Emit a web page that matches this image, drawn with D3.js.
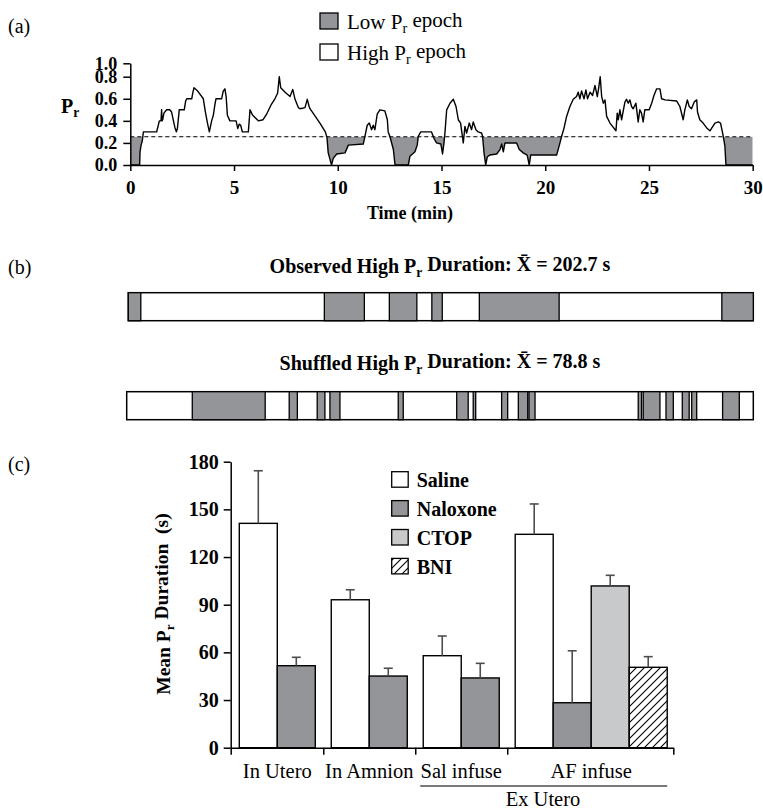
<!DOCTYPE html>
<html>
<head>
<meta charset="utf-8">
<script src="https://cdn.jsdelivr.net/npm/d3@7"></script>
<style>
  body { margin: 0; background: #fff; }
  svg { display: block; font-family: 'Liberation Serif', 'Times New Roman', serif; }
</style>
</head>
<body>
<div id="chart"></div>
<script>
// ---- panel (a): release probability over time ----
const prTime = [0, 0.45, 0.47, 0.52, 0.58, 0.63, 1.27, 1.35, 1.40, 1.48, 1.51, 1.53, 1.56, 1.62, 1.75, 1.90, 1.99, 2.08, 2.15, 2.22,
  2.27, 2.36, 2.60, 2.67, 2.72, 2.96, 3.02, 3.07, 3.25, 3.52, 3.62, 3.72, 3.81, 3.92, 4.0, 4.08, 4.13, 4.40, 4.48, 4.56,
  4.62, 4.68, 4.80, 5.10, 5.18, 5.25, 5.32, 5.40, 5.69, 5.77, 5.90, 6.17, 6.40, 6.57, 6.80, 6.97, 7.10, 7.18, 7.25, 7.46,
  7.70, 7.83, 7.94, 8.10, 8.18, 8.42, 8.53, 8.62, 8.66, 9.14, 9.40, 9.48, 9.54, 9.70, 9.78, 9.95, 10.35, 10.51, 11.23, 11.31,
  11.42, 11.52, 11.63, 11.71, 11.79, 11.90, 12.03, 12.27, 12.39, 12.43, 12.51, 12.68, 12.76, 13.40, 13.48, 13.72, 13.83, 13.88, 14.0, 14.52,
  14.64, 14.76, 14.97, 15.05, 15.12, 15.17, 15.25, 15.41, 15.57, 15.70, 15.81, 15.92, 16.05, 16.13, 16.21, 16.34, 16.45, 16.53, 16.66, 16.77,
  16.93, 16.98, 17.05, 17.13, 17.21, 17.33, 17.66, 17.82, 17.90, 17.98, 18.06, 18.14, 18.62, 18.75, 18.94, 19.13, 19.23, 19.30, 20.55, 20.71,
  20.79, 20.90, 21.03, 21.19, 21.35, 21.51, 21.59, 21.67, 21.75, 21.87, 21.96, 22.04, 22.16, 22.28, 22.40, 22.51, 22.57, 22.65, 22.72, 22.80,
  22.88, 22.96, 23.12, 23.41, 23.47, 23.52, 23.60, 23.68, 23.84, 23.92, 24.00, 24.08, 24.16, 24.24, 24.37, 24.48, 24.56, 24.64, 24.72, 24.80,
  24.88, 25.01, 25.13, 25.24, 25.37, 25.53, 25.61, 25.77, 26.33, 26.49, 26.65, 26.73, 26.85, 26.94, 27.05, 27.18, 27.30, 27.34, 27.45, 27.61,
  27.81, 27.94, 28.18, 28.34, 28.45, 28.55, 28.58, 28.66, 28.71, 30];
const prValue = [0, 0, 0.12, 0.18, 0.22, 0.30, 0.30, 0.36, 0.40, 0.40, 0.50, 0.40, 0.41, 0.47, 0.50, 0.50, 0.48, 0.40, 0.34, 0.30,
  0.33, 0.50, 0.50, 0.58, 0.60, 0.60, 0.66, 0.70, 0.67, 0.60, 0.48, 0.38, 0.30, 0.40, 0.45, 0.55, 0.60, 0.60, 0.67, 0.69,
  0.62, 0.45, 0.40, 0.40, 0.33, 0.37, 0.36, 0.30, 0.30, 0.50, 0.45, 0.40, 0.41, 0.46, 0.55, 0.60, 0.65, 0.80, 0.70, 0.66,
  0.62, 0.685, 0.595, 0.52, 0.51, 0.52, 0.595, 0.53, 0.51, 0.38, 0.30, 0.25, 0.11, 0, 0.06, 0.10, 0.11, 0.18, 0.19, 0.26,
  0.36, 0.38, 0.32, 0.36, 0.32, 0.46, 0.50, 0.49, 0.41, 0.30, 0.26, 0.14, 0, 0, 0.08, 0.12, 0.18, 0.26, 0.30, 0.30,
  0.24, 0.20, 0.19, 0.10, 0.20, 0.30, 0.50, 0.56, 0.595, 0.53, 0.41, 0.38, 0.20, 0.35, 0.29, 0.38, 0.32, 0.39, 0.32, 0.30,
  0.29, 0.26, 0.11, 0, 0.075, 0.09, 0.10, 0.14, 0.19, 0.12, 0.20, 0.20, 0.20, 0.14, 0.11, 0.09, 0, 0.09, 0.09, 0.20,
  0.26, 0.33, 0.44, 0.53, 0.595, 0.62, 0.66, 0.60, 0.67, 0.60, 0.68, 0.60, 0.66, 0.63, 0.72, 0.62, 0.69, 0.80, 0.62, 0.56,
  0.59, 0.44, 0.38, 0.31, 0.47, 0.41, 0.50, 0.41, 0.57, 0.595, 0.56, 0.59, 0.53, 0.51, 0.56, 0.39, 0.50, 0.47, 0.39, 0.50,
  0.50, 0.50, 0.56, 0.63, 0.69, 0.69, 0.60, 0.59, 0.58, 0.53, 0.41, 0.50, 0.59, 0.53, 0.51, 0.57, 0.59, 0.48, 0.41, 0.38,
  0.33, 0.31, 0.38, 0.39, 0.38, 0.29, 0.26, 0.17, 0, 0];
const prThreshold = 0.256;
const prTicks = [0, 0.2, 0.4, 0.6, 0.8, 1.0];
const timeTicks = [0, 5, 10, 15, 20, 25, 30];

// ---- panel (b): low Pr epochs (min) in the observed and shuffled records ----
const observedLowStart = [0, 9.41, 12.53, 14.57, 16.85, 28.49];
const observedLowEnd = [0.6, 11.33, 13.85, 15.07, 20.68, 30];
const shuffledLowStart = [3.14, 7.78, 9.12, 9.73, 13.0, 15.80, 16.59, 17.95, 18.75, 19.26, 24.49, 24.73, 25.82, 26.60, 27.05, 28.53];
const shuffledLowEnd = [6.63, 8.17, 9.49, 10.21, 13.24, 16.35, 16.71, 18.24, 19.20, 19.55, 24.65, 25.53, 26.17, 26.93, 27.29, 29.33];

// ---- panel (c): mean high Pr duration ----
const groupNames = ['In Utero', 'In Amnion', 'Sal infuse', 'AF infuse'];
const treatments = ['Saline', 'Naloxone', 'CTOP', 'BNI'];
const barGroup = [0, 0, 1, 1, 2, 2, 3, 3, 3, 3];
const barTreatment = ['Saline', 'Naloxone', 'Saline', 'Naloxone', 'Saline', 'Naloxone', 'Saline', 'Naloxone', 'CTOP', 'BNI'];
const barMean = [141.2, 51.6, 93.1, 45.1, 57.9, 43.9, 134.3, 28.3, 101.8, 50.6];
const barSem = [33.1, 5.3, 6.3, 4.9, 12.4, 9.2, 19.1, 32.7, 6.7, 6.7];
const durationTicks = [0, 30, 60, 90, 120, 150, 180];

const grey = '#939598';
const lightGrey = '#c8c9cb';
const treatmentFill = { Saline: '#fff', Naloxone: grey, CTOP: lightGrey, BNI: 'url(#hatch)' };

const svg = d3.select('#chart').append('svg')
  .attr('width', 763)
  .attr('height', 809);

// hatch pattern for BNI
svg.append('defs').append('pattern')
  .attr('id', 'hatch')
  .attr('patternUnits', 'userSpaceOnUse')
  .attr('width', 8)
  .attr('height', 8)
  .append('path')
  .attr('d', 'M-2,2 l4,-4 M0,8 l8,-8 M6,10 l4,-4')
  .attr('stroke', '#000')
  .attr('stroke-width', 1.1);

// text with a subscript "r" after a P
function subText(sel, before, sub, after) {
  sel.append('tspan').text(before);
  sel.append('tspan').attr('font-size', '0.68em').attr('dy', '0.3em').text(sub);
  sel.append('tspan').attr('dy', '-0.3em').text(after);
  return sel;
}

function styleAxis(g, size, weight) {
  g.attr('font-family', null).attr('font-size', null);
  g.selectAll('path, line').attr('stroke', '#000').attr('stroke-width', 1.5);
  g.selectAll('text')
    .attr('fill', '#000')
    .style('font-size', size + 'px')
    .style('font-weight', weight);
}

// panel letters
[['(a)', 33], ['(b)', 274], ['(c)', 471]].forEach(p => {
  svg.append('text').attr('x', 8).attr('y', p[1])
    .style('font-size', '20px').text(p[0]);
});

// ================= panel (a) =================
const xA = d3.scaleLinear().domain([0, 30]).range([130.3, 752.7]);
const yA = d3.scaleLinear().domain([0, 0.8, 1.0]).range([165, 76.7, 63.3]);

svg.append('clipPath').attr('id', 'belowThr')
  .append('rect')
  .attr('x', xA(0))
  .attr('y', yA(prThreshold))
  .attr('width', xA(30) - xA(0))
  .attr('height', yA(0) - yA(prThreshold));

// grey low-Pr epochs: between threshold and trace, clipped below threshold
svg.append('path')
  .datum(prValue)
  .attr('clip-path', 'url(#belowThr)')
  .attr('fill', grey)
  .attr('d', d3.area()
    .x((d, i) => xA(prTime[i]))
    .y0(yA(prThreshold))
    .y1(d => yA(d)));

svg.append('line')
  .attr('x1', xA(0)).attr('x2', xA(30))
  .attr('y1', yA(prThreshold)).attr('y2', yA(prThreshold))
  .attr('stroke', '#000')
  .attr('stroke-width', 1.2)
  .attr('stroke-dasharray', '4,3');

svg.append('path')
  .datum(prValue)
  .attr('fill', 'none')
  .attr('stroke', '#000')
  .attr('stroke-width', 1.4)
  .attr('stroke-linejoin', 'round')
  .attr('d', d3.line()
    .x((d, i) => xA(prTime[i]))
    .y(d => yA(d)));

const axA_x = svg.append('g')
  .attr('transform', 'translate(0,' + yA(0) + ')')
  .call(d3.axisBottom(xA).tickValues(timeTicks).tickSize(6).tickSizeOuter(0).tickPadding(10));
styleAxis(axA_x, 19, 'bold');

const axA_y = svg.append('g')
  .attr('transform', 'translate(' + xA(0) + ',0)')
  .call(d3.axisLeft(yA).tickValues(prTicks).tickFormat(d3.format('.1f')).tickSize(7).tickSizeOuter(0).tickPadding(6));
styleAxis(axA_y, 18, 'bold');

svg.append('text')
  .attr('x', 410).attr('y', 219)
  .attr('text-anchor', 'middle')
  .style('font-size', '18px').style('font-weight', 'bold')
  .text('Time (min)');

subText(svg.append('text').attr('x', 61).attr('y', 113)
  .style('font-size', '20px').style('font-weight', 'bold'), 'P', 'r', '');

// legend (a)
[['Low ', grey, 29], ['High ', '#fff', 60]].forEach(l => {
  svg.append('rect')
    .attr('x', 320).attr('y', l[2] - 16)
    .attr('width', 18).attr('height', 16)
    .attr('fill', l[1]).attr('stroke', '#000').attr('stroke-width', 1.3);
  subText(svg.append('text').attr('x', 347).attr('y', l[2])
    .style('font-size', '21px'), l[0] + 'P', 'r', ' epoch');
});

// ================= panel (b) =================
function epochBar(y, x0, lowStart, lowEnd, title, titleY) {
  const xB = d3.scaleLinear().domain([0, 30]).range([x0, 753.3]);
  const h = 28;
  svg.append('rect')
    .attr('x', xB(0)).attr('y', y)
    .attr('width', xB(30) - xB(0)).attr('height', h)
    .attr('fill', '#fff').attr('stroke', '#000').attr('stroke-width', 1.5);
  svg.selectAll(null)
    .data(lowStart)
    .enter()
    .append('rect')
    .attr('x', d => xB(d))
    .attr('y', y)
    .attr('width', (d, i) => xB(lowEnd[i]) - xB(d))
    .attr('height', h)
    .attr('fill', grey)
    .attr('stroke', '#000')
    .attr('stroke-width', 1.3);
  const t = svg.append('text')
    .attr('x', 440).attr('y', titleY)
    .attr('text-anchor', 'middle')
    .style('font-size', '20px').style('font-weight', 'bold');
  subText(t, title[0], 'r', title[1]);
}

epochBar(292.7, 128.3, observedLowStart, observedLowEnd,
  ['Observed High P', ' Duration: X\u0304 = 202.7 s'], 273);
epochBar(391.7, 126.7, shuffledLowStart, shuffledLowEnd,
  ['Shuffled High P', ' Duration: X\u0304 = 78.8 s'], 370);

// ================= panel (c) =================
const padL = 0.226, groupGap = 0.42, padR = 0.16;
const totalUnits = padL + barMean.length + (groupNames.length - 1) * groupGap + padR;
const xC = d3.scaleLinear().domain([0, totalUnits]).range([230.7, 673.3]);
const yC = d3.scaleLinear().domain([0, 180]).range([747.7, 461.7]);
const barStart = (i) => padL + i + barGroup[i] * groupGap;

// group boundaries and centres
const groupFirst = groupNames.map((g, gi) => barGroup.indexOf(gi));
const groupLast = groupNames.map((g, gi) => barGroup.lastIndexOf(gi));
const boundaries = [0].concat(groupFirst.slice(1).map(i => barStart(i) - groupGap / 2), [totalUnits]);

svg.selectAll('.bar')
  .data(barMean)
  .enter()
  .append('rect')
  .attr('class', 'bar')
  .attr('x', (d, i) => xC(barStart(i)))
  .attr('y', d => yC(d))
  .attr('width', xC(1) - xC(0))
  .attr('height', d => yC(0) - yC(d))
  .attr('fill', (d, i) => treatmentFill[barTreatment[i]])
  .attr('stroke', '#000')
  .attr('stroke-width', 1.4);

// error bars (upper only)
const errG = svg.append('g').attr('stroke', '#4d4d4f').attr('stroke-width', 1.6);
barMean.forEach((m, i) => {
  const cx = xC(barStart(i) + 0.5);
  errG.append('line').attr('x1', cx).attr('x2', cx).attr('y1', yC(m)).attr('y2', yC(m + barSem[i]));
  errG.append('line').attr('x1', cx - 4.5).attr('x2', cx + 4.5).attr('y1', yC(m + barSem[i])).attr('y2', yC(m + barSem[i]));
});

const axC_y = svg.append('g')
  .attr('transform', 'translate(' + xC(0) + ',0)')
  .call(d3.axisLeft(yC).tickValues(durationTicks).tickSize(7).tickSizeOuter(0).tickPadding(5));
styleAxis(axC_y, 20, 'bold');

const axC_x = svg.append('g')
  .attr('transform', 'translate(0,' + yC(0) + ')')
  .call(d3.axisBottom(xC).tickValues(boundaries).tickFormat('').tickSize(7).tickSizeOuter(0));
styleAxis(axC_x, 20, 'normal');

groupNames.forEach((g, gi) => {
  const cx = (xC(barStart(groupFirst[gi])) + xC(barStart(groupLast[gi]) + 1)) / 2;
  svg.append('text')
    .attr('x', cx).attr('y', 778)
    .attr('text-anchor', 'middle')
    .style('font-size', '20.5px')
    .text(g);
});

// Ex Utero bracket spans the last two groups
svg.append('line')
  .attr('x1', xC(barStart(groupFirst[2])) - 3).attr('x2', xC(barStart(groupLast[3]) + 1))
  .attr('y1', 786).attr('y2', 786)
  .attr('stroke', '#4d4d4f').attr('stroke-width', 1.6);
svg.append('text')
  .attr('x', 543).attr('y', 806)
  .attr('text-anchor', 'middle')
  .style('font-size', '20.5px')
  .text('Ex Utero');

const yLab = svg.append('text')
  .attr('transform', 'translate(170,604) rotate(-90)')
  .attr('text-anchor', 'middle')
  .style('font-size', '19.5px').style('font-weight', 'bold');
subText(yLab, 'Mean P', 'r', ' Duration\u00a0 (s)');

// legend (c)
treatments.forEach((t, i) => {
  const top = 471.7 + i * 28.9;
  svg.append('rect')
    .attr('x', 391.7).attr('y', top)
    .attr('width', 16.5).attr('height', 15.5)
    .attr('fill', treatmentFill[t])
    .attr('stroke', '#000').attr('stroke-width', 1.3);
  svg.append('text')
    .attr('x', 416.7).attr('y', top + 15.5)
    .style('font-size', '20px').style('font-weight', 'bold')
    .text(t);
});
</script>
</body>
</html>
